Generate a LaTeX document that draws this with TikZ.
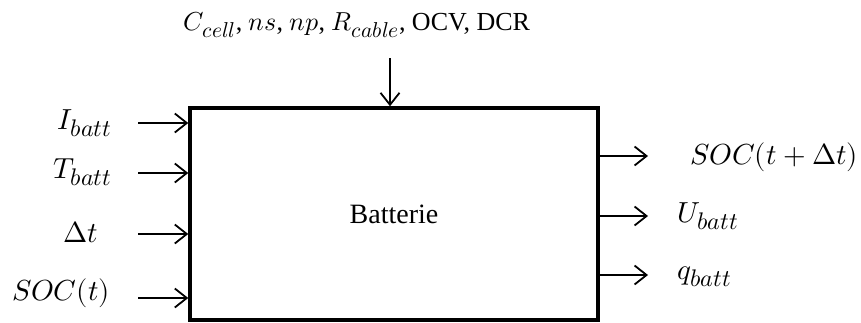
\documentclass[tikz,border=0pt]{standalone}
\usepackage{amsmath}
\usepackage{fontspec}
\usepackage{unicode-math}
\setmainfont{Liberation Serif}
\DeclareMathSizes{29}{29}{24}{19}
\DeclareMathSizes{26}{26}{21.5}{17}
\usetikzlibrary{arrows.meta,positioning}

\begin{document}
\begin{tikzpicture}[x=1pt,y=-1pt,
  lbl/.style={inner sep=0pt,font=\fontsize{29}{34}\selectfont},
  io/.style={line width=1.8pt,-{Straight Barb[length=12pt,width=19pt,line width=1.8pt]}}]
\useasboundingbox (0,0) rectangle (861,322);
\node[draw,line width=3.5pt,minimum width=408pt,minimum height=212pt,inner sep=0pt,
  font=\fontsize{28}{32}\selectfont] (batt) at (394,214) {Batterie};
% parametres
\node[inner sep=0pt,font=\fontsize{26}{30}\selectfont] (par) at (357,25)
  {$C_{cell}$, $ns$, $np$, $R_{cable}$, OCV, DCR};
\coordinate (ptop) at (390,58);
\draw[io] (ptop) -- (ptop |- batt.north);
% entrees
\node[lbl,anchor=east] (ibatt) at (112,123) {$I_{batt}$};
\node[lbl,anchor=east] (tbatt) at (112,172) {$T_{batt}$};
\node[lbl] (dt) at (81,232) {$\Delta t$};
\node[lbl,anchor=east] (soct) at (110,293) {$SOC(t)$};
\coordinate (i1) at (138,123);
\coordinate (i2) at (138,173);
\coordinate (i3) at (138,234);
\coordinate (i4) at (138,298);
\foreach \c in {i1,i2,i3,i4}
  \draw[io] (\c) -- (\c -| batt.west);
% sorties
\node[lbl,anchor=west] (socn) at (690,157) {$SOC(t+\Delta t)$};
\node[lbl,anchor=west] (ubatt) at (677,216) {$U_{batt}$};
\node[lbl,anchor=west] (qbatt) at (677,277) {$q_{batt}$};
\coordinate (o1) at (648,156);
\coordinate (o2) at (648,216);
\coordinate (o3) at (648,275);
\foreach \c in {o1,o2,o3}
  \draw[io] (\c -| batt.east) -- (\c);
\end{tikzpicture}
\end{document}
